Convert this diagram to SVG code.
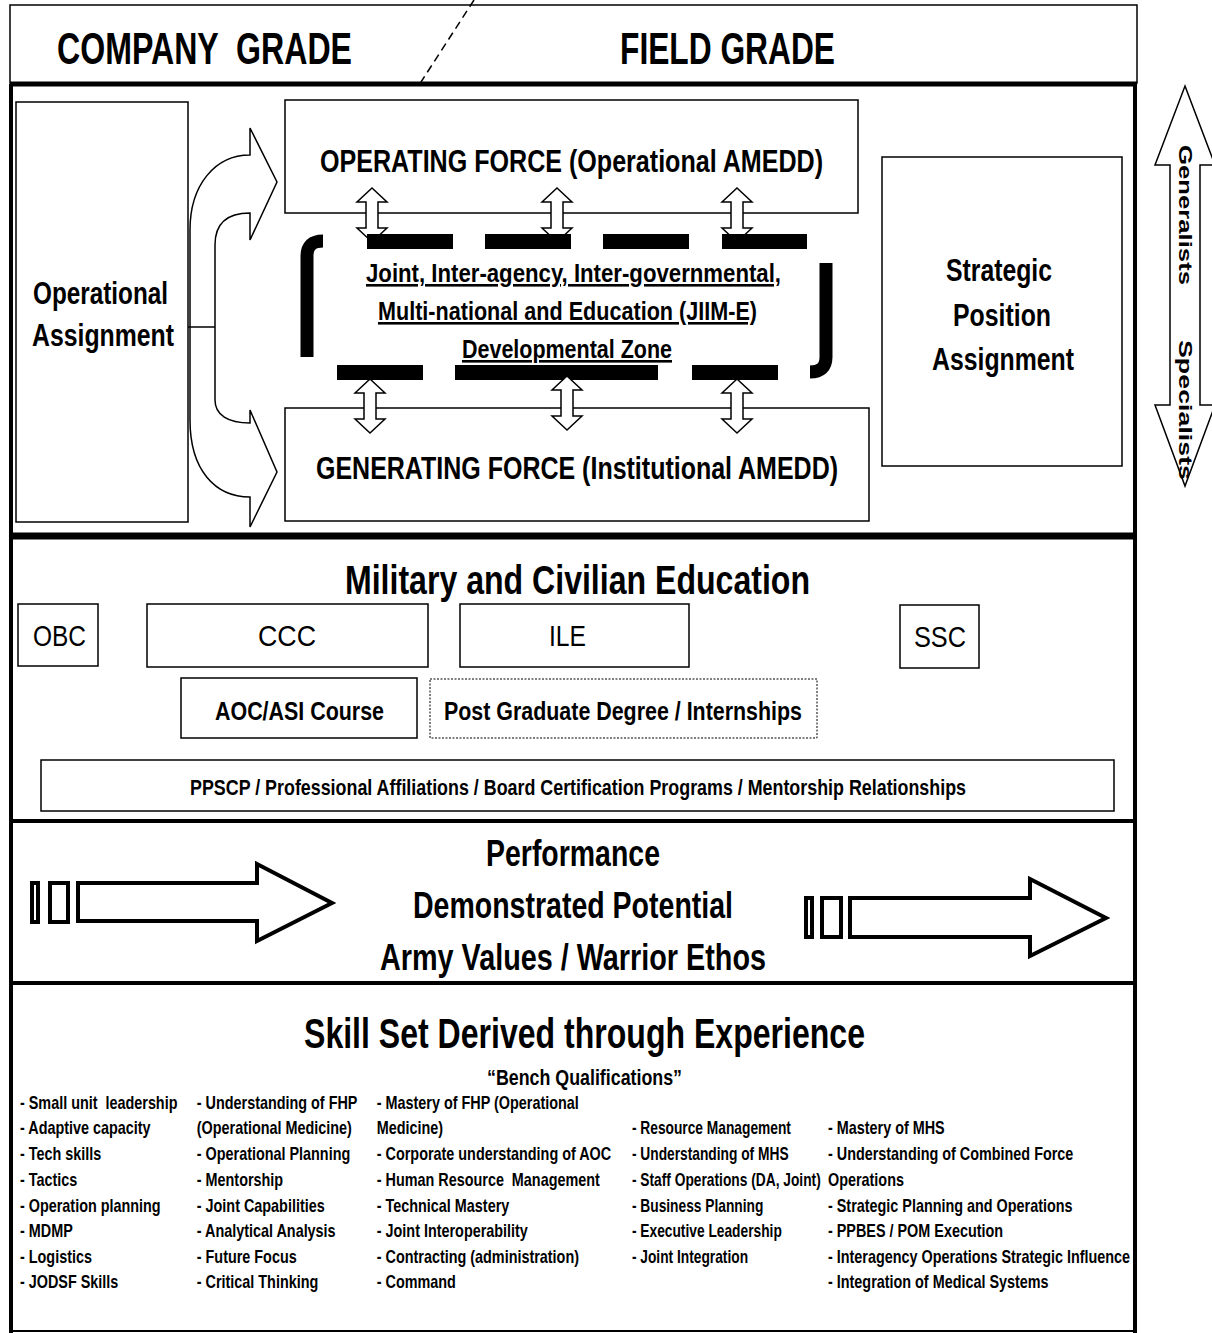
<svg xmlns="http://www.w3.org/2000/svg" width="1212" height="1333" viewBox="0 0 1212 1333">
<style>
text{font-family:"Liberation Sans",Arial,sans-serif;fill:#000;white-space:pre}
.b{font-weight:bold}
.box{fill:#fff;stroke:#000;stroke-width:1.5}
.thick{stroke:#000;fill:none}
.li{font-size:18px;font-weight:bold}
.u{text-decoration:underline}
.bigarrow{fill:#fff;stroke:#000;stroke-width:4}
</style>
<defs>
<path id="dblv" d="M0,0 L15,14 L6,14 L6,40 L15,40 L0,54 L-15,40 L-6,40 L-6,14 L-15,14 Z" fill="#fff" stroke="#000" stroke-width="1.5"/>
</defs>

<g id="frame">
<rect x="10" y="5" width="1127" height="78" fill="none" stroke="#000" stroke-width="1.5"/>
<line class="thick" x1="10" y1="84" x2="1137" y2="84" stroke-width="5"/>
<line class="thick" x1="11" y1="84" x2="11" y2="1333" stroke-width="4"/>
<line class="thick" x1="1135" y1="84" x2="1135" y2="1333" stroke-width="4"/>
<line class="thick" x1="10" y1="536" x2="1137" y2="536" stroke-width="7"/>
<line class="thick" x1="10" y1="821" x2="1137" y2="821" stroke-width="4"/>
<line class="thick" x1="10" y1="983" x2="1137" y2="983" stroke-width="4"/>
<line class="thick" x1="10" y1="1331" x2="1137" y2="1331" stroke-width="2"/>
<line x1="474" y1="0" x2="421" y2="82" stroke="#000" stroke-width="1.5" stroke-dasharray="8,5"/>
</g>

<g id="header">
<text class="b" x="57" y="64" font-size="44" textLength="295" lengthAdjust="spacingAndGlyphs">COMPANY  GRADE</text>
<text class="b" x="620" y="64" font-size="44" textLength="215" lengthAdjust="spacingAndGlyphs">FIELD GRADE</text>
</g>

<g id="operational-assignment">
<rect class="box" x="16" y="102" width="172" height="420"/>
<text class="b" x="33" y="304" font-size="32" textLength="135" lengthAdjust="spacingAndGlyphs">Operational</text>
<text class="b" x="32" y="346" font-size="32" textLength="142" lengthAdjust="spacingAndGlyphs">Assignment</text>
</g>

<g id="operating-force">
<rect class="box" x="285" y="100" width="573" height="113"/>
<text class="b" x="320" y="172" font-size="32" textLength="503" lengthAdjust="spacingAndGlyphs">OPERATING FORCE (Operational AMEDD)</text>
</g>

<g id="generating-force">
<rect class="box" x="285" y="408" width="584" height="113"/>
<text class="b" x="316" y="479" font-size="32" textLength="522" lengthAdjust="spacingAndGlyphs">GENERATING FORCE (Institutional AMEDD)</text>
</g>

<g id="strategic-position">
<rect class="box" x="882" y="157" width="240" height="309"/>
<text class="b" x="946" y="281" font-size="32" textLength="106" lengthAdjust="spacingAndGlyphs">Strategic</text>
<text class="b" x="953" y="326" font-size="32" textLength="98" lengthAdjust="spacingAndGlyphs">Position</text>
<text class="b" x="932" y="370" font-size="32" textLength="142" lengthAdjust="spacingAndGlyphs">Assignment</text>
</g>

<g id="connectors">
<path d="M250,155 L250,128 L277,182 L250,240 L250,213 C228,213 215,222 215,245 L215,400 C215,415 228,423 250,423 L250,410 L277,472 L250,527 L250,497 C215,497 190,470 190,420 L190,230 C190,185 215,155 250,155 Z" fill="#fff" stroke="#000" stroke-width="1.5"/>
<line x1="188" y1="327" x2="215" y2="327" stroke="#000" stroke-width="1.5"/>
<use href="#dblv" x="372" y="188"/>
<use href="#dblv" x="557" y="188"/>
<use href="#dblv" x="737" y="188"/>
</g>

<g id="jiim-zone">
<rect x="367" y="234" width="86" height="15"/>
<rect x="485" y="234" width="86" height="15"/>
<rect x="603" y="234" width="86" height="15"/>
<rect x="722" y="234" width="85" height="15"/>
<path d="M307,357 L307,256 Q307,241 323,241" fill="none" stroke="#000" stroke-width="13"/>
<path d="M826,263 L826,357 Q826,372 810,372" fill="none" stroke="#000" stroke-width="13"/>
<rect x="337" y="365" width="86" height="15"/>
<rect x="455" y="365" width="203" height="15"/>
<rect x="692" y="365" width="86" height="15"/>
<text class="b u" x="366" y="282" font-size="26" textLength="415" lengthAdjust="spacingAndGlyphs">Joint, Inter-agency, Inter-governmental,</text>
<text class="b u" x="378" y="320" font-size="26" textLength="379" lengthAdjust="spacingAndGlyphs">Multi-national and Education (JIIM-E)</text>
<text class="b u" x="462" y="358" font-size="26" textLength="210" lengthAdjust="spacingAndGlyphs">Developmental Zone</text>
<use href="#dblv" x="370" y="379"/>
<use href="#dblv" x="567" y="376"/>
<use href="#dblv" x="737" y="379"/>
</g>

<g id="generalists-specialists">
<path d="M1185,86 L1215,165 L1200,165 L1200,405 L1215,405 L1185,486 L1155,405 L1170,405 L1170,165 L1155,165 Z" fill="#fff" stroke="#000" stroke-width="1.5"/>
<text class="b" transform="translate(1179,145) rotate(90)" font-size="18" textLength="140" lengthAdjust="spacingAndGlyphs">Generalists</text>
<text class="b" transform="translate(1179,340) rotate(90)" font-size="18" textLength="140" lengthAdjust="spacingAndGlyphs">Specialists</text>
</g>

<g id="education">
<text class="b" x="345" y="594" font-size="40" textLength="465" lengthAdjust="spacingAndGlyphs">Military and Civilian Education</text>
<g id="obc"><rect class="box" x="18" y="604" width="80" height="62"/><text x="33" y="646" font-size="30" textLength="53" lengthAdjust="spacingAndGlyphs">OBC</text></g>
<g id="ccc"><rect class="box" x="147" y="604" width="281" height="63"/><text x="258" y="646" font-size="30" textLength="58" lengthAdjust="spacingAndGlyphs">CCC</text></g>
<g id="ile"><rect class="box" x="460" y="604" width="229" height="63"/><text x="549" y="646" font-size="30" textLength="37" lengthAdjust="spacingAndGlyphs">ILE</text></g>
<g id="ssc"><rect class="box" x="900" y="605" width="79" height="63"/><text x="914" y="647" font-size="30" textLength="52" lengthAdjust="spacingAndGlyphs">SSC</text></g>
<g id="aoc"><rect class="box" x="181" y="678" width="236" height="60"/><text class="b" x="215" y="720" font-size="26" textLength="169" lengthAdjust="spacingAndGlyphs">AOC/ASI Course</text></g>
<g id="postgrad"><rect x="430" y="679" width="387" height="59" fill="#fff" stroke="#000" stroke-width="1" stroke-dasharray="2,1.5"/><text class="b" x="444" y="720" font-size="26" textLength="358" lengthAdjust="spacingAndGlyphs">Post Graduate Degree / Internships</text></g>
<g id="ppscp"><rect class="box" x="41" y="760" width="1073" height="51"/><text class="b" x="190" y="795" font-size="22" textLength="776" lengthAdjust="spacingAndGlyphs">PPSCP / Professional Affiliations / Board Certification Programs / Mentorship Relationships</text></g>
</g>

<g id="performance">
<text class="b" x="486" y="866" font-size="36" textLength="174" lengthAdjust="spacingAndGlyphs">Performance</text>
<text class="b" x="413" y="918" font-size="36" textLength="320" lengthAdjust="spacingAndGlyphs">Demonstrated Potential</text>
<text class="b" x="380" y="970" font-size="36" textLength="386" lengthAdjust="spacingAndGlyphs">Army Values / Warrior Ethos</text>
<g id="arrow-left">
<rect class="bigarrow" x="32" y="883" width="6" height="39" stroke-width="3.5"/>
<rect class="bigarrow" x="50" y="883" width="18" height="39" stroke-width="3.5"/>
<path class="bigarrow" d="M78,883 L257,883 L257,864 L332,903 L257,941 L257,921 L78,921 Z"/>
</g>
<g id="arrow-right">
<rect class="bigarrow" x="806" y="898" width="6" height="39" stroke-width="3.5"/>
<rect class="bigarrow" x="822" y="898" width="19" height="39" stroke-width="3.5"/>
<path class="bigarrow" d="M850,898 L1030,898 L1030,879 L1106,918 L1030,956 L1030,937 L850,937 Z"/>
</g>
</g>

<g id="skills">
<text class="b" x="304" y="1048" font-size="42" textLength="561" lengthAdjust="spacingAndGlyphs">Skill Set Derived through Experience</text>
<text class="b" x="487" y="1085" font-size="22" textLength="195" lengthAdjust="spacingAndGlyphs">“Bench Qualifications”</text>
<g transform="scale(0.8,1)">
<g class="col1">
<text class="li" x="25" y="1109">- Small unit  leadership</text>
<text class="li" x="25" y="1134">- Adaptive capacity</text>
<text class="li" x="25" y="1160">- Tech skills</text>
<text class="li" x="25" y="1186">- Tactics</text>
<text class="li" x="25" y="1212">- Operation planning</text>
<text class="li" x="25" y="1237">- MDMP</text>
<text class="li" x="25" y="1263">- Logistics</text>
<text class="li" x="25" y="1288">- JODSF Skills</text>
</g>
<g class="col2">
<text class="li" x="246" y="1109">- Understanding of FHP</text>
<text class="li" x="246" y="1134">(Operational Medicine)</text>
<text class="li" x="246" y="1160">- Operational Planning</text>
<text class="li" x="246" y="1186">- Mentorship</text>
<text class="li" x="246" y="1212">- Joint Capabilities</text>
<text class="li" x="246" y="1237">- Analytical Analysis</text>
<text class="li" x="246" y="1263">- Future Focus</text>
<text class="li" x="246" y="1288">- Critical Thinking</text>
</g>
<g class="col3">
<text class="li" x="471" y="1109">- Mastery of FHP (Operational</text>
<text class="li" x="471" y="1134">Medicine)</text>
<text class="li" x="471" y="1160">- Corporate understanding of AOC</text>
<text class="li" x="471" y="1186">- Human Resource  Management</text>
<text class="li" x="471" y="1212">- Technical Mastery</text>
<text class="li" x="471" y="1237">- Joint Interoperability</text>
<text class="li" x="471" y="1263">- Contracting (administration)</text>
<text class="li" x="471" y="1288">- Command</text>
</g>
<g class="col5">
<text class="li" x="1035" y="1134">- Mastery of MHS</text>
<text class="li" x="1035" y="1160">- Understanding of Combined Force</text>
<text class="li" x="1035" y="1186">Operations</text>
<text class="li" x="1035" y="1212">- Strategic Planning and Operations</text>
<text class="li" x="1035" y="1237">- PPBES / POM Execution</text>
<text class="li" x="1035" y="1263">- Interagency Operations Strategic Influence</text>
<text class="li" x="1035" y="1288">- Integration of Medical Systems</text>
</g>
</g>
<g class="col4" transform="scale(0.765,1)">
<text class="li" x="826" y="1134">- Resource Management</text>
<text class="li" x="826" y="1160">- Understanding of MHS</text>
<text class="li" x="826" y="1186">- Staff Operations (DA, Joint)</text>
<text class="li" x="826" y="1212">- Business Planning</text>
<text class="li" x="826" y="1237">- Executive Leadership</text>
<text class="li" x="826" y="1263">- Joint Integration</text>
</g>
</g>
</svg>
